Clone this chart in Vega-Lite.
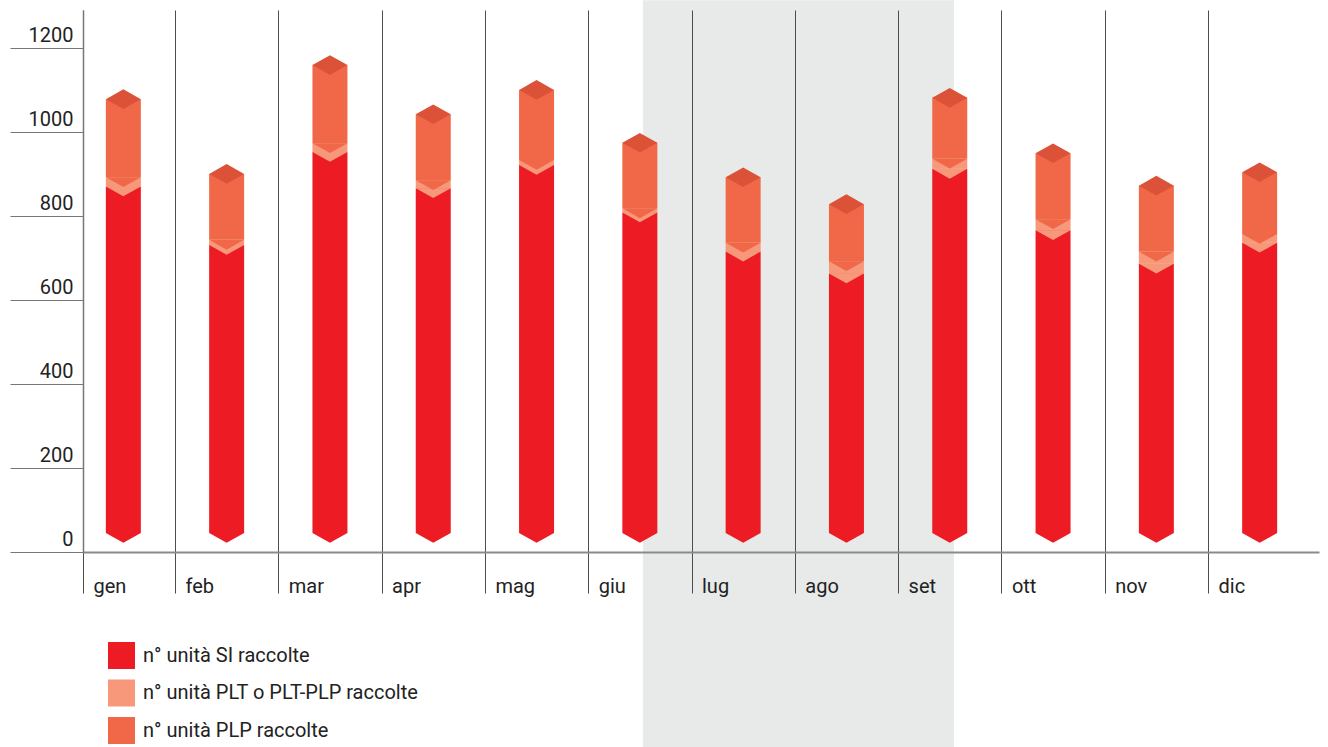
{
  "$schema": "https://vega.github.io/schema/vega-lite/v6.json",
  "width": 1236,
  "height": 542,
  "autosize": {"type": "none"},
  "padding": {"left": 83, "top": 10, "right": 9, "bottom": 195},
  "background": "white",
  "config": {
    "view": {"stroke": null},
    "font": "Roboto",
    "legend": {
      "orient": "none", "legendX": 25, "legendY": 632, "direction": "vertical",
      "symbolType": "square", "symbolSize": 729, "symbolStrokeWidth": 0,
      "labelFontSize": 20, "labelColor": "#222222", "labelFont": "Roboto",
      "rowPadding": 10.5, "labelOffset": 8, "labelLimit": 600
    }
  },
  "layer": [
    {
      "data": {"values": [{"from": 6.03, "to": 9.04}]},
      "mark": {"type": "rect", "color": "#E8EAE9"},
      "encoding": {
        "x": {
          "field": "from", "type": "quantitative",
          "scale": {"domain": [0.6094, 12.5745], "nice": false, "zero": false, "padding": 0}
        },
        "x2": {"field": "to"},
        "y": {
          "datum": 1314, "type": "quantitative",
          "scale": {"domain": [0, 1290.5], "nice": false, "zero": false},
          "axis": {
            "values": [0, 200, 400, 600, 800, 1000, 1200],
            "format": "d",
            "title": null, "grid": false,
            "tickSize": 73, "tickColor": "#777777", "tickWidth": 1,
            "domainColor": "#777777", "domainWidth": 1.5,
            "labelAlign": "right", "labelBaseline": "bottom", "labelPadding": -63, "labelOffset": -3,
            "labelFontSize": 20, "labelColor": "#222222", "labelFont": "Roboto",
            "labelOverlap": false, "labelBound": false, "labelFlush": false, "zindex": 1
          }
        },
        "y2": {"datum": -464}
      }
    },
    {
      "data": {"values": [
        {"mese": "gen", "m": 1, "series": "n° unità SI raccolte", "value": 825},
        {"mese": "gen", "m": 1, "series": "n° unità PLT o PLT-PLP raccolte", "value": 22},
        {"mese": "gen", "m": 1, "series": "n° unità PLP raccolte", "value": 186},
        {"mese": "feb", "m": 2, "series": "n° unità SI raccolte", "value": 686},
        {"mese": "feb", "m": 2, "series": "n° unità PLT o PLT-PLP raccolte", "value": 12},
        {"mese": "feb", "m": 2, "series": "n° unità PLP raccolte", "value": 157},
        {"mese": "mar", "m": 3, "series": "n° unità SI raccolte", "value": 907},
        {"mese": "mar", "m": 3, "series": "n° unità PLT o PLT-PLP raccolte", "value": 21},
        {"mese": "mar", "m": 3, "series": "n° unità PLP raccolte", "value": 186},
        {"mese": "apr", "m": 4, "series": "n° unità SI raccolte", "value": 821},
        {"mese": "apr", "m": 4, "series": "n° unità PLT o PLT-PLP raccolte", "value": 19},
        {"mese": "apr", "m": 4, "series": "n° unità PLP raccolte", "value": 157},
        {"mese": "mag", "m": 5, "series": "n° unità SI raccolte", "value": 876},
        {"mese": "mag", "m": 5, "series": "n° unità PLT o PLT-PLP raccolte", "value": 12},
        {"mese": "mag", "m": 5, "series": "n° unità PLP raccolte", "value": 167},
        {"mese": "giu", "m": 6, "series": "n° unità SI raccolte", "value": 763},
        {"mese": "giu", "m": 6, "series": "n° unità PLT o PLT-PLP raccolte", "value": 10},
        {"mese": "giu", "m": 6, "series": "n° unità PLP raccolte", "value": 156},
        {"mese": "lug", "m": 7, "series": "n° unità SI raccolte", "value": 670},
        {"mese": "lug", "m": 7, "series": "n° unità PLT o PLT-PLP raccolte", "value": 21},
        {"mese": "lug", "m": 7, "series": "n° unità PLP raccolte", "value": 156},
        {"mese": "ago", "m": 8, "series": "n° unità SI raccolte", "value": 618},
        {"mese": "ago", "m": 8, "series": "n° unità PLT o PLT-PLP raccolte", "value": 29},
        {"mese": "ago", "m": 8, "series": "n° unità PLP raccolte", "value": 136},
        {"mese": "set", "m": 9, "series": "n° unità SI raccolte", "value": 867},
        {"mese": "set", "m": 9, "series": "n° unità PLT o PLT-PLP raccolte", "value": 24},
        {"mese": "set", "m": 9, "series": "n° unità PLP raccolte", "value": 145},
        {"mese": "ott", "m": 10, "series": "n° unità SI raccolte", "value": 721},
        {"mese": "ott", "m": 10, "series": "n° unità PLT o PLT-PLP raccolte", "value": 26},
        {"mese": "ott", "m": 10, "series": "n° unità PLP raccolte", "value": 157},
        {"mese": "nov", "m": 11, "series": "n° unità SI raccolte", "value": 641},
        {"mese": "nov", "m": 11, "series": "n° unità PLT o PLT-PLP raccolte", "value": 29},
        {"mese": "nov", "m": 11, "series": "n° unità PLP raccolte", "value": 157},
        {"mese": "dic", "m": 12, "series": "n° unità SI raccolte", "value": 691},
        {"mese": "dic", "m": 12, "series": "n° unità PLT o PLT-PLP raccolte", "value": 21},
        {"mese": "dic", "m": 12, "series": "n° unità PLP raccolte", "value": 147}
      ]},
      "transform": [
        {"stack": "value", "groupby": ["m"], "sort": [{"field": "series", "order": "descending"}], "as": ["lo", "hi"]}
      ],
      "layer": [
        {
          "mark": {"type": "bar", "size": 35},
          "encoding": {
            "x": {
              "field": "m", "type": "quantitative",
              "scale": {"domain": [0.6094, 12.5745], "nice": false, "zero": false, "padding": 0},
              "axis": {
                "values": [0.6094, 1.5, 2.5, 3.5, 4.5, 5.5, 6.5, 7.5, 8.5, 9.5, 10.5, 11.5],
                "labelExpr": "['gen','feb','mar','apr','mag','giu','lug','ago','set','ott','nov','dic'][round(datum.value - 0.5)]",
                "title": null, "grid": true, "gridColor": "#4d4d4d", "gridWidth": 1,
                "tickSize": 41, "tickColor": "#4d4d4d", "tickWidth": 1,
                "domainColor": "#8a8a8a", "domainWidth": 2,
                "labelAlign": "left", "labelBaseline": "alphabetic", "labelPadding": -1, "labelOffset": 10,
                "labelFontSize": 20, "labelColor": "#222222", "labelFont": "Roboto",
                "labelOverlap": false, "labelBound": false, "labelFlush": false, "zindex": 1
              }
            },
            "y": {"field": "hi", "type": "quantitative", "scale": {"domain": [-45.2, 1245.2], "nice": false, "zero": false}, "axis": null},
            "y2": {"field": "lo"},
            "color": {
              "field": "series", "type": "nominal",
              "scale": {
                "domain": ["n° unità SI raccolte", "n° unità PLT o PLT-PLP raccolte", "n° unità PLP raccolte"],
                "range": ["#ED1C24", "#F7987A", "#F16849"]
              },
              "legend": {"title": null}
            }
          }
        },
        {
          "mark": {"type": "point", "shape": "M-1,0L1,0L0,0.56Z", "filled": true, "opacity": 1, "size": 1225, "strokeWidth": 0},
          "encoding": {
            "x": {"field": "m", "type": "quantitative", "scale": {"domain": [0.6094, 12.5745], "nice": false, "zero": false, "padding": 0}},
            "y": {"field": "lo", "type": "quantitative", "scale": {"domain": [-45.2, 1245.2], "nice": false, "zero": false}, "axis": null},
            "color": {"field": "series", "type": "nominal", "legend": null},
            "order": {"field": "series", "sort": "descending"}
          }
        },
        {
          "transform": [{"filter": "datum.series === 'n° unità PLP raccolte'"}],
          "mark": {"type": "point", "shape": "M-1,0L0,-0.56L1,0L0,0.56Z", "filled": true, "opacity": 1, "size": 1225, "strokeWidth": 0, "color": "#DC5239"},
          "encoding": {
            "x": {"field": "m", "type": "quantitative", "scale": {"domain": [0.6094, 12.5745], "nice": false, "zero": false, "padding": 0}},
            "y": {"field": "hi", "type": "quantitative", "scale": {"domain": [-45.2, 1245.2], "nice": false, "zero": false}, "axis": null}
          }
        }
      ]
    }
  ],
  "resolve": {"scale": {"y": "independent"}}
}
